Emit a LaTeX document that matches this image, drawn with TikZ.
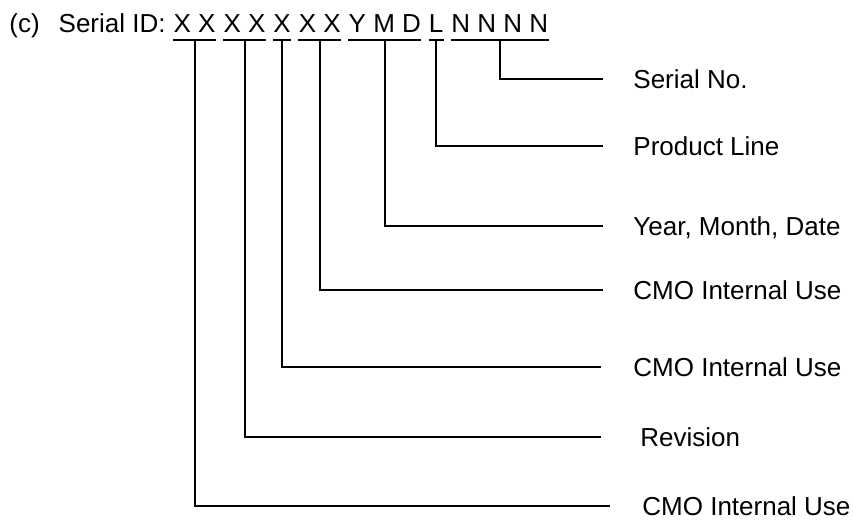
\documentclass[tikz,border=0pt]{standalone}
\usepackage{fontspec}
\setmainfont{Liberation Sans}
\usetikzlibrary{positioning}

\tikzstyle{idpart} = [inner sep=0pt, 
text depth=3.75pt, 
font=\fontsize{13}{15}\selectfont]
\tikzstyle{field} = [anchor=west, 
inner sep=0pt, 
text height=9.4pt, 
text depth=0pt, 
font=\fontsize{13}{15}\selectfont]
\tikzstyle{lead} = [line width=1pt]
\tikzstyle{uline} = [line width=1pt]

\begin{document}
\begin{tikzpicture}[x=0.5pt, y=-0.5pt]
	\useasboundingbox (0,0) rectangle (854,519);
	
	% serial id with its groups
	\node (title) [idpart, anchor=base west] at (9,32.5) {(c)\hspace{9.5pt}Serial ID:};
	\node (id1) [idpart, base right=3.6pt of title] {X X};
	\node (id2) [idpart, base right=3.6pt of id1] {X X};
	\node (id3) [idpart, base right=3.6pt of id2] {X};
	\node (id4) [idpart, base right=3.6pt of id3] {X X};
	\node (id5) [idpart, base right=3.6pt of id4] {Y M D};
	\node (id6) [idpart, base right=3.6pt of id5] {L};
	\node (id7) [idpart, base right=3.6pt of id6] {N N N N};
	
	\draw [uline] (id1.south west) -- (id1.south east);
	\draw [uline] (id2.south west) -- (id2.south east);
	\draw [uline] (id3.south west) -- (id3.south east);
	\draw [uline] (id4.south west) -- (id4.south east);
	\draw [uline] (id5.south west) -- (id5.south east);
	\draw [uline] (id6.south west) -- (id6.south east);
	\draw [uline] (id7.south west) -- (id7.south east);
	
	% field names
	\node (lab1) [field] at (633,79) {Serial No.};
	\node (lab2) [field] at (633,146) {Product Line};
	\node (lab3) [field] at (633,226) {Year, Month, Date};
	\node (lab4) [field] at (633,290) {CMO Internal Use};
	\node (lab5) [field] at (633,367) {CMO Internal Use};
	\node (lab6) [field] at (640,437) {Revision};
	\node (lab7) [field] at (642,506) {CMO Internal Use};
	
	\draw [lead] (id7.south) |- ([xshift=-15pt]lab1.west);
	\draw [lead] (id6.south) |- ([xshift=-15pt]lab2.west);
	\draw [lead] (id5.south) |- ([xshift=-15pt]lab3.west);
	\draw [lead] (id4.south) |- ([xshift=-15pt]lab4.west);
	\draw [lead] (id3.south) |- ([xshift=-16pt]lab5.west);
	\draw [lead] (id2.south) |- ([xshift=-19.5pt]lab6.west);
	\draw [lead] (id1.south) |- ([xshift=-16pt]lab7.west);
	
\end{tikzpicture}
\end{document}
